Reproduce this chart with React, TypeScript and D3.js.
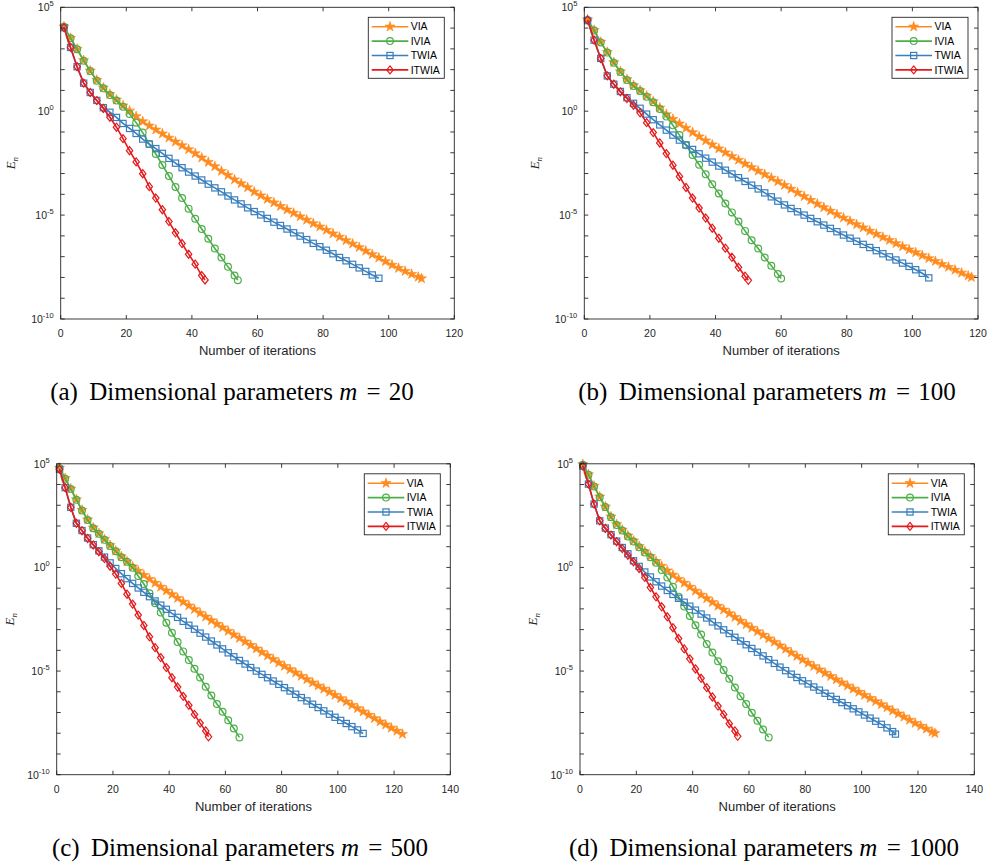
import * as d3 from 'd3'
import React from 'react'

const W = 988
const H = 867

// legend order
const names = ['VIA', 'IVIA', 'TWIA', 'ITWIA']
const colors = ['#ff8b1f', '#4daf4a', '#3a7fbd', '#e41a1c']
const markers = ['star', 'circle', 'square', 'diamond']

// iteration of the last marker of each curve (VIA, IVIA, TWIA, ITWIA)
const lastA = [110, 54, 97, 44]
const lastB = [118, 60, 105, 50]
const lastC = [123, 65, 109, 54]
const lastD = [126, 67, 112, 56]

// log10(E_n) at the markers: iterations 1, 3, 5, ... and then the last one
const viaA = [4.07, 3.52, 2.99, 2.45, 1.95, 1.5, 1.13, 0.82, 0.55, 0.27, 0.02, -0.25, -0.49, -0.7, -0.89, -1.08, -1.28, -1.47, -1.65, -1.84, -2.03, -2.24, -2.45, -2.66, -2.88, -3.08, -3.29, -3.48, -3.67, -3.88, -4.06, -4.23, -4.4, -4.57, -4.74, -4.9, -5.07, -5.23, -5.4, -5.56, -5.72, -5.89, -6.05, -6.22, -6.38, -6.55, -6.72, -6.89, -7.05, -7.23, -7.4, -7.55, -7.7, -7.84, -7.98, -8.05]
const iviaA = [4.07, 3.51, 2.98, 2.43, 1.93, 1.47, 1.1, 0.78, 0.51, 0.22, -0.13, -0.55, -1.03, -1.58, -2.06, -2.59, -3.12, -3.65, -4.18, -4.69, -5.18, -5.67, -6.14, -6.61, -7.04, -7.49, -7.91, -8.13]
const twiaA = [4.02, 3.07, 2.14, 1.35, 0.9, 0.52, 0.17, -0.05, -0.3, -0.59, -0.83, -1.07, -1.34, -1.58, -1.8, -2.03, -2.27, -2.5, -2.72, -2.93, -3.12, -3.31, -3.51, -3.69, -3.88, -4.08, -4.27, -4.46, -4.65, -4.83, -4.99, -5.16, -5.34, -5.5, -5.67, -5.85, -6.01, -6.18, -6.36, -6.52, -6.69, -6.86, -7.04, -7.2, -7.37, -7.54, -7.71, -7.88, -8.04]
const itwiaA = [4.02, 3.07, 2.14, 1.35, 0.9, 0.51, 0.13, -0.29, -0.77, -1.32, -1.9, -2.44, -3.01, -3.63, -4.18, -4.74, -5.31, -5.85, -6.37, -6.88, -7.36, -7.91, -8.12]

const viaB = [4.41, 3.9, 3.33, 2.84, 2.35, 1.91, 1.53, 1.24, 1.0, 0.74, 0.47, 0.17, -0.15, -0.38, -0.6, -0.81, -1.02, -1.22, -1.42, -1.61, -1.8, -1.99, -2.17, -2.35, -2.53, -2.7, -2.87, -3.04, -3.21, -3.38, -3.56, -3.74, -3.92, -4.1, -4.28, -4.46, -4.63, -4.8, -4.97, -5.13, -5.29, -5.45, -5.6, -5.76, -5.91, -6.06, -6.21, -6.36, -6.51, -6.66, -6.8, -6.94, -7.08, -7.22, -7.36, -7.5, -7.64, -7.78, -7.92, -7.99]
const iviaB = [4.39, 3.88, 3.31, 2.82, 2.33, 1.89, 1.5, 1.21, 0.97, 0.7, 0.43, 0.11, -0.26, -0.68, -1.15, -1.64, -2.11, -2.58, -3.04, -3.52, -3.96, -4.44, -4.87, -5.31, -5.76, -6.21, -6.61, -7.04, -7.44, -7.84, -8.05]
const twiaB = [4.36, 3.42, 2.54, 1.7, 1.3, 0.95, 0.65, 0.38, 0.14, -0.14, -0.41, -0.66, -0.91, -1.15, -1.39, -1.62, -1.84, -2.05, -2.26, -2.45, -2.64, -2.84, -3.02, -3.2, -3.38, -3.56, -3.74, -3.93, -4.12, -4.33, -4.51, -4.68, -4.84, -5.0, -5.16, -5.32, -5.48, -5.64, -5.8, -5.96, -6.11, -6.26, -6.41, -6.56, -6.71, -6.86, -7.01, -7.16, -7.31, -7.47, -7.63, -7.8, -8.02]
const itwiaB = [4.39, 3.42, 2.54, 1.7, 1.3, 0.93, 0.61, 0.29, -0.08, -0.55, -1.03, -1.53, -2.04, -2.6, -3.14, -3.67, -4.18, -4.66, -5.14, -5.63, -6.11, -6.59, -7.03, -7.51, -7.94, -8.14]

const viaC = [4.8, 4.3, 3.8, 3.28, 2.77, 2.31, 1.92, 1.64, 1.36, 1.07, 0.8, 0.53, 0.28, 0.04, -0.17, -0.37, -0.56, -0.75, -0.94, -1.12, -1.3, -1.48, -1.66, -1.84, -2.02, -2.2, -2.38, -2.56, -2.73, -2.9, -3.07, -3.24, -3.41, -3.58, -3.75, -3.92, -4.09, -4.26, -4.43, -4.6, -4.76, -4.92, -5.08, -5.24, -5.4, -5.56, -5.71, -5.86, -6.01, -6.16, -6.32, -6.48, -6.64, -6.8, -6.96, -7.12, -7.28, -7.44, -7.59, -7.74, -7.89, -8.04]
const iviaC = [4.79, 4.28, 3.78, 3.26, 2.75, 2.29, 1.89, 1.62, 1.33, 1.04, 0.78, 0.49, 0.27, -0.02, -0.41, -0.8, -1.25, -1.73, -2.18, -2.67, -3.15, -3.6, -4.05, -4.47, -4.89, -5.31, -5.76, -6.18, -6.59, -6.96, -7.37, -7.77, -8.2]
const twiaC = [4.73, 3.85, 2.9, 2.13, 1.78, 1.42, 1.1, 0.8, 0.5, 0.22, -0.05, -0.3, -0.54, -0.77, -0.99, -1.2, -1.41, -1.62, -1.82, -2.02, -2.22, -2.41, -2.6, -2.79, -2.98, -3.17, -3.36, -3.55, -3.74, -3.93, -4.12, -4.31, -4.49, -4.66, -4.83, -5.0, -5.16, -5.32, -5.48, -5.64, -5.8, -5.96, -6.12, -6.28, -6.44, -6.6, -6.76, -6.92, -7.08, -7.23, -7.38, -7.53, -7.68, -7.84, -8.01]
const itwiaC = [4.73, 3.85, 2.9, 2.13, 1.77, 1.4, 1.08, 0.76, 0.43, 0.06, -0.32, -0.77, -1.29, -1.77, -2.3, -2.8, -3.35, -3.87, -4.35, -4.83, -5.32, -5.77, -6.22, -6.65, -7.09, -7.51, -7.89, -8.17]

const viaD = [4.97, 4.49, 3.93, 3.41, 2.93, 2.45, 2.08, 1.81, 1.53, 1.29, 1.02, 0.77, 0.54, 0.3, 0.07, -0.15, -0.36, -0.56, -0.75, -0.94, -1.13, -1.32, -1.5, -1.68, -1.86, -2.04, -2.22, -2.4, -2.58, -2.75, -2.92, -3.09, -3.26, -3.43, -3.6, -3.77, -3.94, -4.11, -4.28, -4.45, -4.61, -4.77, -4.93, -5.09, -5.25, -5.41, -5.56, -5.71, -5.86, -6.01, -6.16, -6.31, -6.46, -6.61, -6.76, -6.91, -7.06, -7.21, -7.36, -7.51, -7.65, -7.79, -7.93, -8.0]
const iviaD = [4.95, 4.47, 3.91, 3.39, 2.91, 2.42, 2.05, 1.78, 1.49, 1.25, 0.97, 0.72, 0.49, 0.23, -0.12, -0.48, -0.93, -1.41, -1.89, -2.34, -2.79, -3.24, -3.7, -4.11, -4.53, -4.95, -5.37, -5.79, -6.21, -6.59, -7.01, -7.4, -7.82, -8.2]
const twiaD = [4.89, 4.02, 3.06, 2.25, 1.9, 1.58, 1.27, 0.96, 0.66, 0.32, 0.05, -0.22, -0.46, -0.69, -0.9, -1.11, -1.3, -1.49, -1.68, -1.87, -2.06, -2.25, -2.44, -2.63, -2.82, -3.01, -3.19, -3.37, -3.55, -3.73, -3.91, -4.09, -4.27, -4.45, -4.63, -4.81, -4.98, -5.15, -5.31, -5.47, -5.62, -5.77, -5.92, -6.07, -6.22, -6.37, -6.52, -6.67, -6.82, -6.97, -7.12, -7.27, -7.42, -7.57, -7.74, -7.92, -8.04]
const itwiaD = [4.89, 4.02, 3.06, 2.25, 1.88, 1.56, 1.24, 0.91, 0.59, 0.27, -0.05, -0.48, -0.97, -1.42, -1.9, -2.38, -2.91, -3.43, -3.93, -4.41, -4.9, -5.35, -5.8, -6.25, -6.69, -7.09, -7.54, -7.89, -8.15]

const yTicks = d3.range(-10, 6) // decades
const yLabels = [5, 0, -5, -10]

const sans = '"Liberation Sans", Arial, Helvetica, sans-serif'
const serif = '"Liberation Serif", "Times New Roman", serif'
const ink = '#262626'

// markers are drawn at every other iteration plus the final one
function iters(last: number) {
  const xs: number[] = []
  for (let k = 1; k < last; k += 2) xs.push(k)
  xs.push(last)
  return xs
}

const starPath = d3.symbol(d3.symbolStar, 32)()

function Marker({ kind, x, y, color }: { kind: string; x: number; y: number; color: string }) {
  const t = `translate(${x},${y})`
  if (kind === 'star') return <path d={starPath} transform={t} fill={color} stroke={color} strokeWidth={0.6} />
  if (kind === 'circle') return <circle cx={x} cy={y} r={3.4} fill="none" stroke={color} strokeWidth={1.2} />
  if (kind === 'square') return <rect x={x - 3.1} y={y - 3.1} width={6.2} height={6.2} fill="none" stroke={color} strokeWidth={1.2} />
  return <path d="M0,-4L3.2,0L0,4L-3.2,0Z" transform={t} fill="none" stroke={color} strokeWidth={1.2} />
}

function Panel({ l, t, r, b, xMax, series, lasts, tag, m, capX, capY, yLabX }) {
  const x = d3.scaleLinear().domain([0, xMax]).range([l, r])
  const y = d3.scaleLog().domain([1e-10, 1e5]).range([b, t])
  const line = d3.line<[number, number]>().x((d) => x(d[0])).y((d) => y(Math.pow(10, d[1])))
  const xTicks = d3.range(0, xMax + 1, 20)
  const lx = r - 86
  const ly = t + 10

  return (
    <g>
      {series.map((vals, i) => {
        const xs = iters(lasts[i])
        const pts: [number, number][] = vals.map((v, j) => [xs[j], v])
        return (
          <g key={names[i]}>
            <path d={line(pts)} fill="none" stroke={colors[i]} strokeWidth={1.6} />
            {pts.map((p, j) => (
              <Marker key={j} kind={markers[i]} x={x(p[0])} y={y(Math.pow(10, p[1]))} color={colors[i]} />
            ))}
          </g>
        )
      })}

      {/* axes box and inward ticks */}
      <rect x={l} y={t} width={r - l} height={b - t} fill="none" stroke={ink} strokeWidth={0.9} />
      {xTicks.map((v) => (
        <g key={'x' + v}>
          <line x1={x(v)} x2={x(v)} y1={b} y2={b - 4} stroke={ink} strokeWidth={0.9} />
          <line x1={x(v)} x2={x(v)} y1={t} y2={t + 4} stroke={ink} strokeWidth={0.9} />
          <text x={x(v)} y={b + 18} textAnchor="middle" fontFamily={sans} fontSize={10.5} fill={ink}>{v}</text>
        </g>
      ))}
      {yTicks.map((e) => (
        <g key={'y' + e}>
          <line x1={l} x2={l + 4} y1={y(Math.pow(10, e))} y2={y(Math.pow(10, e))} stroke={ink} strokeWidth={0.9} />
          <line x1={r} x2={r - 4} y1={y(Math.pow(10, e))} y2={y(Math.pow(10, e))} stroke={ink} strokeWidth={0.9} />
        </g>
      ))}
      {yLabels.map((e) => (
        <text key={'yl' + e} x={l - 7} y={y(Math.pow(10, e)) + 4} textAnchor="end" fontFamily={sans} fontSize={10.5} fill={ink}>
          10<tspan fontSize={7.5} dy={-5}>{e}</tspan>
        </text>
      ))}

      <text x={(l + r) / 2} y={b + 36} textAnchor="middle" fontFamily={sans} fontSize={13} fill={ink}>
        Number of iterations
      </text>
      <text transform={`translate(${yLabX},${(t + b) / 2}) rotate(-90)`} textAnchor="middle" fontFamily={serif} fontStyle="italic" fontSize={13} fill={ink}>
        E<tspan fontSize={9} dy={3}>n</tspan>
      </text>

      {/* legend */}
      <rect x={lx} y={ly} width={76} height={61} fill="#fff" stroke={ink} strokeWidth={0.9} />
      {names.map((n, i) => {
        const cy = ly + 9.4 + i * 14.4
        return (
          <g key={'lg' + n}>
            <line x1={lx + 3.4} x2={lx + 40} y1={cy} y2={cy} stroke={colors[i]} strokeWidth={1.6} />
            <Marker kind={markers[i]} x={lx + 21.7} y={cy} color={colors[i]} />
            <text x={lx + 42.4} y={cy + 3.7} fontFamily={sans} fontSize={10.5} fill="#000">{n}</text>
          </g>
        )
      })}

      <text x={capX} y={capY} textAnchor="middle" fontFamily={serif} fontSize={25} fill="#000">
        <tspan>{`(${tag})`}</tspan>
        <tspan dx={5}>{' Dimensional parameters '}</tspan>
        <tspan fontStyle="italic">m</tspan>
        <tspan dx={3}>{' = '}</tspan>
        <tspan dx={2}>{m}</tspan>
      </text>
    </g>
  )
}

export default function App() {
  return (
    <svg width={W} height={H} style={{ position: 'absolute', left: 0, top: 0, background: '#fff' }}>
      <rect width={W} height={H} fill="#fff" />
      <Panel l={60.7} t={7.3} r={454.3} b={319} xMax={120} series={[viaA, iviaA, twiaA, itwiaA]} lasts={lastA}
        tag="a" m="20" capX={232} capY={400} yLabX={15} />
      <Panel l={584.3} t={7.3} r={978} b={319} xMax={120} series={[viaB, iviaB, twiaB, itwiaB]} lasts={lastB}
        tag="b" m="100" capX={767} capY={400} yLabX={538.6} />
      <Panel l={56.7} t={463.8} r={450.3} b={774.7} xMax={140} series={[viaC, iviaC, twiaC, itwiaC]} lasts={lastC}
        tag="c" m="500" capX={240} capY={856} yLabX={13.5} />
      <Panel l={580} t={463.8} r={974.3} b={774.7} xMax={140} series={[viaD, iviaD, twiaD, itwiaD]} lasts={lastD}
        tag="d" m="1000" capX={764} capY={856} yLabX={536.7} />
    </svg>
  )
}
